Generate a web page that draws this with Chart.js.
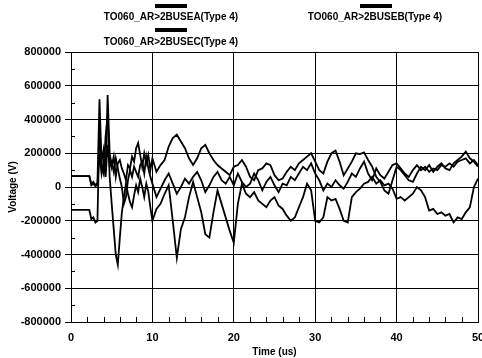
<!DOCTYPE html>
<html>
<head>
<meta charset="utf-8">
<script src="https://cdn.jsdelivr.net/npm/chart.js@4"></script>
<style>
  body { margin: 0; background: #fff; }
  #wrap { position: relative; width: 482px; height: 358px; }
  .key { position: absolute; font: bold 10px "Liberation Sans", Arial, sans-serif; color: #000; white-space: nowrap; }
  .bar { position: absolute; width: 32px; height: 4px; background: #000; }
</style>
</head>
<body>
<div id="wrap">
  <canvas id="dataChart" width="482" height="358"></canvas>
</div>
<script>
// Time axis (us) and phase voltages, in kV
const times = [
  0, 0.25, 0.5, 0.75, 1, 1.25, 1.5, 1.75, 2, 2.25,
  2.5, 2.75, 3, 3.25, 3.5, 3.75, 4, 4.25, 4.5, 4.75,
  5, 5.25, 5.5, 5.75, 6, 6.25, 6.5, 6.75, 7, 7.25,
  7.5, 7.75, 8, 8.25, 8.5, 8.75, 9, 9.25, 9.5, 9.75, 10,
  10.5, 11, 11.5, 12, 12.5, 13, 13.5, 14, 14.5, 15, 15.5, 16, 16.5, 17, 17.5, 18, 18.5, 19, 19.5, 20,
  20.5, 21, 21.5, 22, 22.5, 23, 23.5, 24, 24.5, 25, 25.5, 26, 26.5, 27, 27.5, 28, 28.5, 29, 29.5, 30,
  30.5, 31, 31.5, 32, 32.5, 33, 33.5, 34, 34.5, 35, 35.5, 36, 36.5, 37, 37.5, 38, 38.5, 39, 39.5, 40,
  40.5, 41, 41.5, 42, 42.5, 43, 43.5, 44, 44.5, 45, 45.5, 46, 46.5, 47, 47.5, 48, 48.5, 49, 49.5, 50
];

const busA = [
  65, 65, 65, 65, 65, 65, 65, 65, 65, 65,
  20, 30, 10, 25, 520, 150, 220, 90, 545, 200,
  120, 180, 60, 140, 160, 110, 80, 40, 130, 110,
  180, 150, 230, 260, 190, 120, 200, 140, 190, 100, 170,
  90, 130, 160, 240, 290, 310, 270, 230, 170, 130, 170, 230, 250, 200, 160, 130, 110, 90, 70, 120,
  130, 160, 120, 60, 40, 100, 110, 140, 130, 70, 40, 50, 90, 120, 100, 140, 160, 180, 200, 150,
  100, 80, 150, 200, 215, 150, 70, 110, 150, 200, 195, 205, 160, 120, 60, 30, -20, -40, 40, 120,
  100, 70, 40, 30, 80, 120, 100, 130, 90, 120, 140, 110, 100, 140, 160, 180, 210, 170, 150, 120
];

const busB = [
  -136, -136, -136, -136, -136, -136, -136, -136, -136, -136,
  -190, -180, -210, -200, 380, 120, 80, 300, 420, 60,
  -100, -250, -400, -460, -300, -150, -60, 20, -40, -90,
  -120, -50, 10, -30, 50, 0, -60, 20, -30, -120, -200,
  -130, -100, -40, 10, -200, -420, -250, -180, -60, 30, -60, -150, -280, -300, -150, -20, -100, -180, -260, -330,
  -100, 20, -40, -60, -30, -80, -100, -120, -80, -60, -110, -130, -170, -200, -180, -120, -60, 20, -20, -200,
  -210, -180, -60, -80, -70, -130, -200, -210, -60, -30, -10, 20, 30, 60, 20, 40, 10, 20, -10, -70,
  -60, -80, -60, -40, 0, -20, -60, -140, -130, -160, -150, -170, -160, -210, -180, -190, -150, -120, 0, 50
];

const busC = [
  65, 65, 65, 65, 65, 65, 65, 65, 65, 65,
  10, 20, 5, 15, 200, 80, 150, 60, 250, 120,
  150, 90, 170, 110, 50, 0, -100, -60, 40, 100,
  60, 120, 90, 60, 130, 150, 80, 180, 110, 60, 20,
  -60, -10, 40, 80, 20, -40, 0, 50, 20, 60, 90, 40, -30, 10, 60, 90, 40, 20, 60, 10,
  80, 30, 0, 20, 80, 40, -20, 30, 60, 10, -30, 20, 10, 60, 40, 80, 120, 100, 140, 80,
  40, -20, 20, 0, 40, 10, -10, 30, 80, 60, 110, 150, 80, 40, 110, 70, 50, 90, 130, 140,
  110, 80, 60, 100, 130, 100, 120, 90, 110, 100, 130, 120, 140, 120, 150, 160, 170, 140, 160, 130
];

const seriesNames = ['TO060_AR>2BUSEA(Type 4)', 'TO060_AR>2BUSEB(Type 4)', 'TO060_AR>2BUSEC(Type 4)'];
const xTicks = [0, 10, 20, 30, 40, 50];
const yTicks = [-800000, -600000, -400000, -200000, 0, 200000, 400000, 600000, 800000];

// legend: thick bar above each name
const legendPos = [
  { bx: 155, by: 4, tx: 171, ty: 11 },
  { bx: 360, by: 4, tx: 375, ty: 11 },
  { bx: 155, by: 28, tx: 171, ty: 36 }
];
const wrap = document.getElementById('wrap');
seriesNames.forEach((name, i) => {
  const p = legendPos[i];
  const bar = document.createElement('div');
  bar.className = 'bar';
  bar.style.left = p.bx + 'px';
  bar.style.top = p.by + 'px';
  wrap.appendChild(bar);
  const t = document.createElement('div');
  t.className = 'key';
  t.textContent = name;
  t.style.left = p.tx + 'px';
  t.style.top = p.ty + 'px';
  t.style.transform = 'translateX(-50%)';
  wrap.appendChild(t);
});

function toPoints(vals) {
  return vals.map((v, i) => ({ x: times[i], y: v * 1000 }));
}

// small inward ticks: every 2 us on the time axis, every 100000 V on the voltage axis
const minorTicks = {
  id: 'minorTicks',
  afterDraw(chart) {
    const { ctx, chartArea, scales } = chart;
    ctx.save();
    ctx.strokeStyle = '#000';
    ctx.lineWidth = 1;
    ctx.beginPath();
    for (let t = 2; t < 50; t += 2) {
      if (t % 10 === 0) continue;
      const x = Math.round(scales.x.getPixelForValue(t)) + 0.5;
      ctx.moveTo(x, chartArea.bottom);
      ctx.lineTo(x, chartArea.bottom - 5);
    }
    for (let v = -700000; v < 800000; v += 200000) {
      const y = Math.round(scales.y.getPixelForValue(v)) + 0.5;
      ctx.moveTo(chartArea.left, y);
      ctx.lineTo(chartArea.left + 4, y);
    }
    ctx.stroke();
    ctx.restore();
  }
};

const tickFont = { family: '"Liberation Sans", Arial, sans-serif', size: 11, weight: 'bold' };
const titleFont = { family: '"Liberation Sans", Arial, sans-serif', size: 10, weight: 'bold' };

new Chart(document.getElementById('dataChart').getContext('2d'), {
  type: 'line',
  data: {
    datasets: [busA, busB, busC].map((vals, i) => ({
      label: seriesNames[i],
      data: toPoints(vals),
      borderColor: '#000',
      borderWidth: 1.8,
      pointRadius: 0,
      tension: 0,
      fill: false
    }))
  },
  options: {
    responsive: false,
    animation: false,
    layout: { padding: { top: 52, right: 4, left: 0, bottom: 0 } },
    plugins: { legend: { display: false }, tooltip: { enabled: false } },
    scales: {
      x: {
        type: 'linear',
        min: 0,
        max: 50,
        afterBuildTicks: s => { s.ticks = xTicks.map(v => ({ value: v })); },
        afterFit: s => { s.height = 36; s.paddingLeft = 0; s.paddingRight = 0; },
        grid: { color: '#000', lineWidth: 1, drawTicks: false },
        border: { color: '#000', width: 1 },
        ticks: { color: '#000', font: tickFont, padding: 9, maxRotation: 0, callback: v => String(v) },
        title: { display: true, text: 'Time (us)', color: '#000', font: titleFont, padding: 0 }
      },
      y: {
        min: -800000,
        max: 800000,
        afterBuildTicks: s => { s.ticks = yTicks.map(v => ({ value: v })); },
        afterFit: s => { s.width = 71; s.paddingTop = 0; s.paddingBottom = 0; },
        grid: { color: '#000', lineWidth: 1, tickLength: 6 },
        border: { color: '#000', width: 1 },
        ticks: { color: '#000', font: tickFont, padding: 4, callback: v => String(v) },
        title: { display: true, text: 'Voltage (V)', color: '#000', font: titleFont, padding: { top: 7, bottom: 0 } }
      }
    }
  },
  plugins: [minorTicks]
});
</script>
</body>
</html>
